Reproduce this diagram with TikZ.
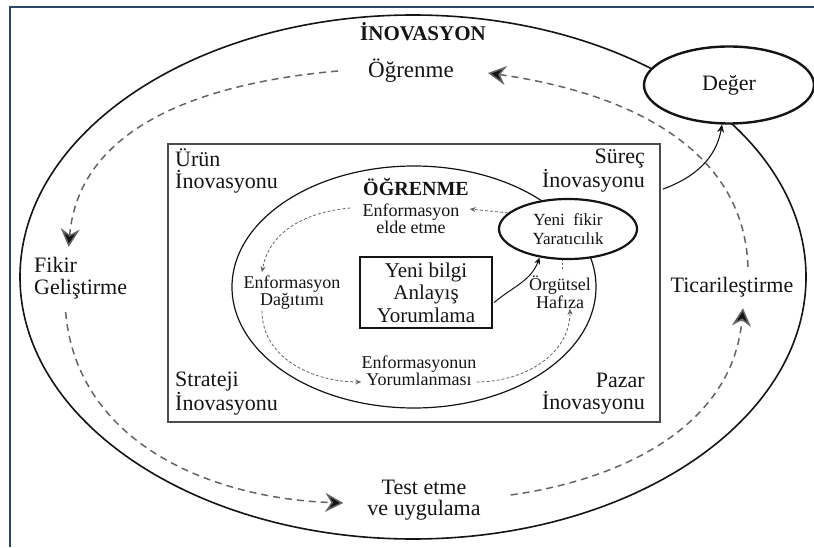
\documentclass[tikz,border=0pt]{standalone}
\usepackage{fontspec}
\setmainfont{Liberation Serif}
\usetikzlibrary{arrows.meta,shapes.geometric,positioning}
\definecolor{framecol}{RGB}{44,72,102}
\definecolor{txtcol}{RGB}{20,20,20}
\definecolor{dashcol}{RGB}{100,100,100}
\newcommand{\fsz}[2]{\fontsize{#1}{#2}\selectfont}

\begin{document}
\begin{tikzpicture}[x=1pt, y=1pt,
    big/.style={inner sep=0pt, align=center, text=txtcol, font=\fsz{22}{22}},
    small/.style={inner sep=0pt, align=center, text=txtcol, font=\fsz{18}{17.5}},
    outerflow/.style={draw=dashcol, line width=1.5pt, dash pattern=on 7pt off 5pt,
        -{Stealth[length=18pt,width=19pt,inset=6pt,fill=txtcol]}},
    innerflow/.style={draw=dashcol, line width=0.8pt, dash pattern=on 3pt off 2pt,
        -{Stealth[length=6pt,width=5pt]}}]
        \useasboundingbox (0,0) rectangle (814,547);
        %frame
        \draw[framecol, line width=2pt] (10,0) -- (10,540) -- (814,540);
        %nodes
        \node[ellipse, draw=txtcol, line width=1.6pt, minimum width=786pt, minimum height=524pt] (outer) at (413,270) {};
        \node[big, font=\bfseries\fsz{21}{21}] (inov) at (423,515) {İNOVASYON};
        \node[big, font=\fsz{23}{23}] (ogr) at (411,476) {Öğrenme};
        \node[ellipse, draw=txtcol, fill=white, line width=2.4pt, minimum width=170pt, minimum height=77pt,
            inner sep=0pt, text=txtcol, font=\fsz{22}{22}] (deger) at (729,462) {Değer};
        \node[big, align=left, anchor=west] (fikir) at (34,269) {Fikir\\Geliştirme};
        \node[big] (tic) at (732,260) {Ticarileştirme};
        \node[big, font=\fsz{22}{21}] (test) at (424,47) {Test etme\\ve uygulama};
        \node[draw=black!70, line width=1.8pt, minimum width=492pt, minimum height=278pt] (box) at (414,264) {};
        \node[big, align=left, anchor=west] (urun) at (175,376) {Ürün\\İnovasyonu};
        \node[big, align=right, anchor=east] (surec) at (645,376) {Süreç\\İnovasyonu};
        \node[big, align=left, anchor=west] (strateji) at (175,153) {Strateji\\İnovasyonu};
        \node[big, align=right, anchor=east] (pazar) at (645,153) {Pazar\\İnovasyonu};
        \node[ellipse, draw=txtcol, line width=1.2pt, minimum width=364pt, minimum height=242pt] (inner) at (414,260) {};
        \node[big, font=\bfseries\fsz{20}{20}] (ogrenme) at (416,360) {ÖĞRENME};
        \node[small] (elde) at (411,328) {Enformasyon\\elde etme};
        \node[ellipse, draw=txtcol, fill=white, line width=2.2pt, minimum width=138pt, minimum height=60pt,
            inner sep=0pt, align=center, text=txtcol, font=\fsz{17}{19}] (yenifikir) at (568,318) {Yeni\ \ fikir\\Yaratıcılık};
        \node[draw=txtcol, line width=2.2pt, minimum width=132pt, minimum height=71pt, inner sep=0pt,
            align=center, text=txtcol, font=\fsz{21}{22.5}] (bilgi) at (426,254.5) {Yeni bilgi\\Anlayış\\Yorumlama};
        \node[small] (dagitim) at (292,254.5) {Enformasyon\\Dağıtımı};
        \node[small] (hafiza) at (560,254.5) {Örgütsel\\Hafıza};
        \node[small] (yorum) at (419,176) {Enformasyonun\\Yorumlanması};
        %edges
        \path [outerflow] ([xshift=-30pt]ogr.west) to[out=185, in=85] ([shift={(-12pt,10pt)}]fikir.north);
        \path [outerflow] ([shift={(-15pt,-13pt)}]fikir.south) to[out=-85, in=178] ([shift={(-24pt,-3pt)}]test.west);
        \path [outerflow] ([shift={(30pt,5pt)}]test.east) to[out=8, in=-95] ([shift={(11pt,-11pt)}]tic.south);
        \path [outerflow] ([shift={(16pt,10pt)}]tic.north) to[out=92, in=-8] ([shift={(34pt,-2pt)}]ogr.east);
        \path [innerflow] (yenifikir.165) to ([shift={(10pt,10pt)}]elde.east);
        \path [innerflow] ([shift={(-12pt,11pt)}]elde.west) to[out=185, in=80] ([shift={(-30pt,3pt)}]dagitim.north);
        \path [innerflow] ([shift={(-30pt,-1pt)}]dagitim.south) to[out=-90, in=180] ([yshift=-11pt]yorum.west);
        \path [innerflow] ([yshift=-11pt]yorum.east) to[out=0, in=-90] ([xshift=10pt]hafiza.south);
        \path [draw=dashcol, line width=0.8pt, dash pattern=on 2pt off 2pt] ([shift={(2pt,7pt)}]hafiza.north) to ([xshift=-6pt]yenifikir.south);
        \path [draw=txtcol, line width=1pt, -{Stealth[length=7pt,width=6pt]}] ([shift={(1pt,-10pt)}]bilgi.east) to[out=40, in=-110] (yenifikir.225);
        \path [draw=txtcol, line width=1.1pt, -{Stealth[length=8pt,width=7pt]}] ([shift={(2pt,-46pt)}]box.north east) to[out=20, in=-100] (deger.260);
      \end{tikzpicture}
\end{document}
